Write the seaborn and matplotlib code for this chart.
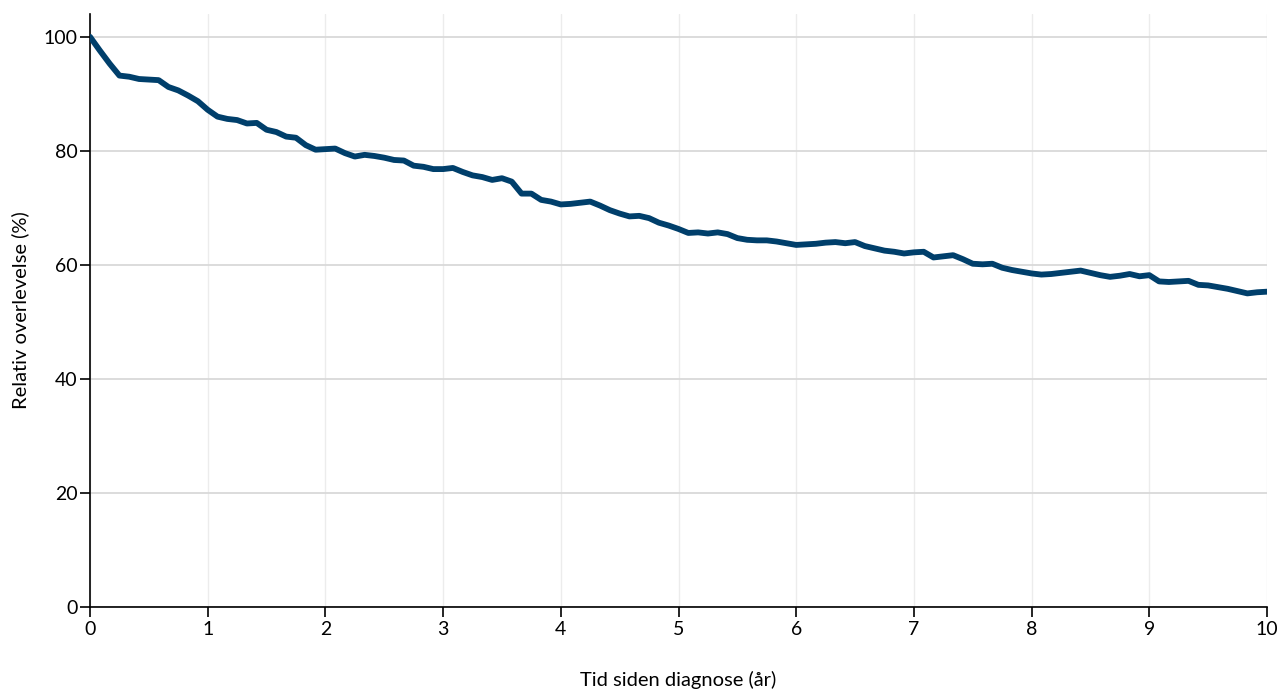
"""Relativ overlevelse etter diagnose."""

import matplotlib.pyplot as plt
import numpy as np
import pandas as pd
import seaborn as sns

# Months 0..120
months = np.arange(0, 121)
survival = [
    100.0, 97.6, 95.3, 93.2, 93.0, 92.6, 92.5, 92.4, 91.2, 90.6, 89.7, 88.7,
    87.2, 86.0, 85.6, 85.4, 84.8, 84.9, 83.7, 83.3, 82.5, 82.3, 81.0, 80.2,
    80.3, 80.4, 79.6, 79.0, 79.3, 79.1, 78.8, 78.4, 78.3, 77.4, 77.2, 76.8,
    76.8, 77.0, 76.3, 75.7, 75.4, 74.9, 75.2, 74.6, 72.5, 72.5, 71.4, 71.1,
    70.6, 70.7, 70.9, 71.1, 70.4, 69.6, 69.0, 68.5, 68.6, 68.2, 67.4, 66.9,
    66.3, 65.6, 65.7, 65.5, 65.7, 65.4, 64.7, 64.4, 64.3, 64.3, 64.1, 63.8,
    63.5, 63.6, 63.7, 63.9, 64.0, 63.8, 64.0, 63.3, 62.9, 62.5, 62.3, 62.0,
    62.2, 62.3, 61.3, 61.5, 61.7, 61.0, 60.2, 60.1, 60.2, 59.5, 59.1, 58.8,
    58.5, 58.3, 58.4, 58.6, 58.8, 59.0, 58.6, 58.2, 57.9, 58.1, 58.4, 58.0,
    58.2, 57.1, 57.0, 57.1, 57.2, 56.5, 56.4, 56.1, 55.8, 55.4, 55.0, 55.2,
    55.3,
]
x_ticks = list(range(0, 11))
y_ticks = [0, 20, 40, 60, 80, 100]

df = pd.DataFrame({"years": months / 12, "survival": survival})

sns.set_theme(style="white")
plt.rcParams["font.family"] = ["Lato", "DejaVu Sans"]

fig = plt.figure(figsize=(12.81, 6.93), dpi=100)
ax = fig.add_axes([90 / 1281, 86 / 693, 1177 / 1281, (607 - 14) / 693])

sns.lineplot(data=df, x="years", y="survival", ax=ax, color="#003f6b",
             linewidth=4.2, solid_joinstyle="round", zorder=3)

ax.set_xlim(0, 10)
ax.set_ylim(0, 104)
ax.set_xticks(x_ticks)
ax.set_yticks(y_ticks)

ax.grid(axis="y", color="#d9d9d9", linewidth=1.3)
ax.grid(axis="x", color="#ececec", linewidth=1.0)
ax.set_axisbelow(True)

for side in ["top", "right"]:
    ax.spines[side].set_visible(False)
for side in ["left", "bottom"]:
    ax.spines[side].set_color("black")
    ax.spines[side].set_linewidth(1.2)

ax.tick_params(axis="both", direction="out", length=7, width=1.2,
               bottom=True, left=True, color="black", labelsize=14,
               labelcolor="black", pad=3)
ax.tick_params(axis="y", pad=2)

ax.set_xlabel("Tid siden diagnose (år)", fontsize=14.5, color="black", labelpad=24)
ax.set_ylabel("Relativ overlevelse (%)", fontsize=14.5, color="black", labelpad=10)

fig.savefig("out.png", dpi=100)
plt.close(fig)
